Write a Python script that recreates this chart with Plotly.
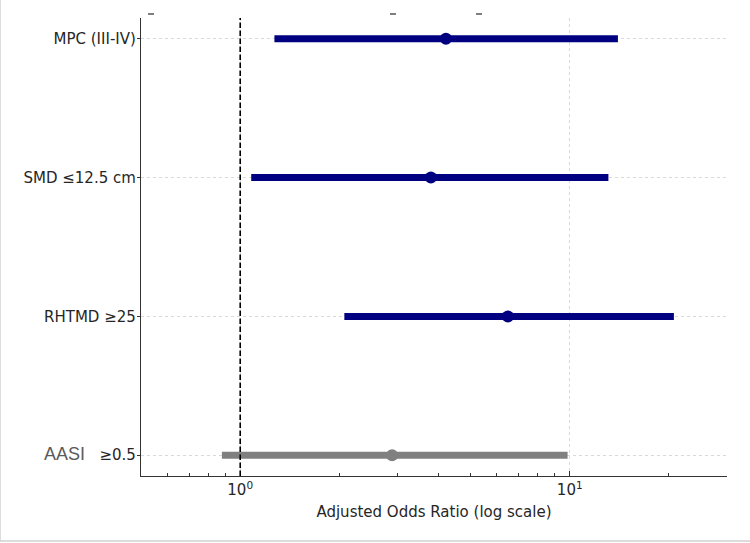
import plotly.graph_objects as go
import math

# Data (bottom to top)
categories = ["AASI ≥0.5", "RHTMD ≥25", "SMD ≤12.5 cm", "MPC (III-IV)"]
tick_labels = [
    "<span style='font-family:Liberation Sans;font-size:18px;color:#5a5a5a'>AASI</span>\u00a0\u00a0\u00a0≥0.5",
    "RHTMD ≥25",
    "SMD ≤12.5 cm",
    "MPC (III-IV)",
]
odds_ratio = [2.89, 6.49, 3.79, 4.21]
ci_lower = [0.88, 2.07, 1.08, 1.27]
ci_upper = [9.85, 20.7, 13.1, 14.0]
colors = ["#808080", "#000080", "#000080", "#000080"]

x_major = [1, 10]
x_major_text = ["10<sup>0</sup>", "10<sup>1</sup>"]
x_minor = [0.5, 0.6, 0.7, 0.8, 0.9, 2, 3, 4, 5, 6, 7, 8, 9, 20, 30]

fig = go.Figure()
for i, cat in enumerate(categories):
    fig.add_trace(go.Scatter(
        x=[ci_lower[i], ci_upper[i]], y=[i, i], mode="lines",
        line=dict(color=colors[i], width=7), showlegend=False, hoverinfo="skip"))
    fig.add_trace(go.Scatter(
        x=[odds_ratio[i]], y=[i], mode="markers",
        marker=dict(color=colors[i], size=12, line=dict(width=0)),
        showlegend=False))

# reference line at OR = 1
fig.add_shape(type="line", xref="x", yref="paper", x0=1, x1=1, y0=0, y1=1,
              line=dict(color="black", width=1.6, dash="5.5px,2.5px"))

# light outer frame (left and bottom)
fig.add_shape(type="line", xref="paper", yref="paper", x0=-141/586, x1=-141/586,
              y0=-65/458, y1=1.05, line=dict(color="#d0d0d0", width=1.5))
fig.add_shape(type="line", xref="paper", yref="paper", x0=-141/586, x1=1.05,
              y0=-65/458, y1=-65/458, line=dict(color="#d0d0d0", width=1.5))

# remnants of a cropped title at the top (small gray dashes)
for xp in [151, 393, 479]:
    fig.add_shape(type="line", xref="paper", yref="paper",
                  x0=(xp - 144) / 586, x1=(xp - 138) / 586,
                  y0=1 + 4 / 458, y1=1 + 4 / 458,
                  line=dict(color="#555555", width=1.5))

fig.update_layout(
    width=750, height=543,
    margin=dict(l=141, r=23, t=18, b=67),
    paper_bgcolor="white", plot_bgcolor="white",
    font=dict(family="DejaVu Sans", size=15, color="#262626"),
    xaxis=dict(
        type="log",
        range=[math.log10(0.5), math.log10(30)],
        tickmode="array", tickvals=x_major, ticktext=x_major_text,
        ticks="inside", ticklen=5, tickwidth=1.2, tickcolor="#333333",
        showline=True, linecolor="#333333", linewidth=1.3,
        showgrid=True, gridcolor="#d9d9d9", griddash="dot", gridwidth=1,
        zeroline=False,
        minor=dict(tickmode="array", tickvals=x_minor, ticks="inside",
                   ticklen=3, tickwidth=1, tickcolor="#333333", showgrid=False),
        title=dict(text="Adjusted Odds Ratio (log scale)", standoff=8,
                   font=dict(size=15, color="#262626")),
        tickfont=dict(size=15, color="#262626"),
    ),
    yaxis=dict(
        range=[-0.15, 3.15],
        tickmode="array", tickvals=list(range(len(categories))), ticktext=tick_labels,
        ticks="outside", ticklen=3, tickwidth=1.2, tickcolor="#333333",
        ticklabelstandoff=-2,
        showline=True, linecolor="#333333", linewidth=1.3,
        showgrid=True, gridcolor="#d9d9d9", griddash="dot", gridwidth=1,
        zeroline=False,
        tickfont=dict(size=15, color="#262626"),
    ),
)

fig.write_html("out.html")
